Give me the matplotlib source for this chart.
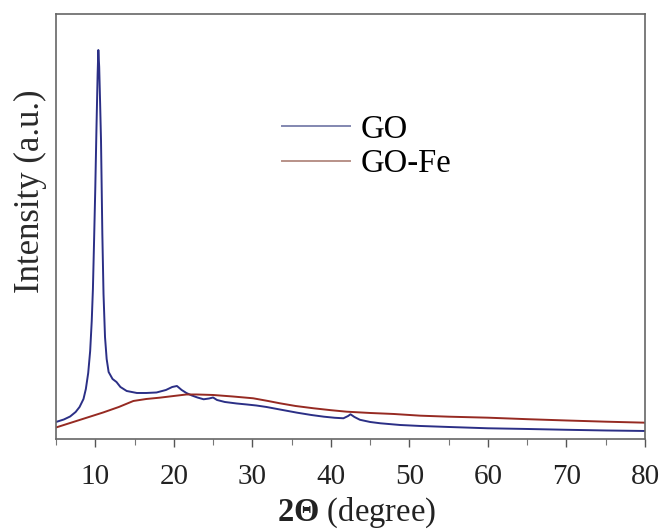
import matplotlib
matplotlib.use("Agg")
import matplotlib.pyplot as plt
from matplotlib.ticker import MultipleLocator

# XRD patterns (intensity in arbitrary units)
two_theta_go = [5.0, 6.0, 6.8, 7.5, 8.0, 8.5, 8.8, 9.1, 9.35, 9.55, 9.7, 9.85,
                10.0, 10.15, 10.3, 10.39, 10.5, 10.62, 10.73, 10.9, 11.05, 11.24,
                11.45, 11.7, 12.2, 12.7, 13.2, 14.0, 15.3, 16.5, 17.8, 19.0, 19.8,
                20.4, 21.0, 21.6, 22.3, 23.0, 23.8, 24.5, 25.0, 25.5, 26.5, 28.0,
                29.3, 30.5, 31.8, 33.5, 35.7, 37.5, 39.1, 40.5, 41.6, 42.2, 42.5,
                43.0, 43.7, 45.0, 46.3, 48.8, 51.4, 55.0, 60.0, 65.0, 70.0, 75.0,
                80.0]
intensity_go = [17, 19.5, 22.5, 27, 32, 40, 50, 66, 88, 118, 150, 199,
                250, 310, 365, 389, 372, 335, 299, 205, 145, 102,
                80, 67, 60, 57, 52, 48, 46, 46, 46.5, 49, 52,
                53, 49, 46, 43.5, 41.5, 39.7, 40.5, 41.5, 39, 37, 35.5,
                34.5, 33.5, 32, 29.5, 26.3, 24, 22.3, 21.2, 20.7, 23, 24.7,
                22, 19.2, 17, 15.7, 14, 13, 12, 10.7, 10, 9.2, 8.5,
                8]

two_theta_fe = [5.0, 7.0, 9.0, 11.0, 13.0, 14.85, 16.5, 18.2, 20.0, 21.6,
                22.9, 25.0, 27.5, 30.1, 32.0, 33.5, 35.5, 37.8, 40.0, 42.0, 45.0,
                48.0, 51.4, 55.0, 60.0, 65.0, 70.0, 75.0, 80.0]
intensity_fe = [11.5, 16.5, 21.5, 26.5, 32, 38, 40, 41.3, 43, 44.5,
                44.5, 44, 42.5, 40.7, 38, 35.7, 33, 30.7, 28.8, 27.3, 26,
                25, 23.3, 22.3, 21.3, 19.8, 18.5, 17.3, 16.3]

plt.rcParams["font.family"] = ["Liberation Serif", "DejaVu Serif"]
plt.rcParams["mathtext.fontset"] = "custom"
plt.rcParams["mathtext.rm"] = "Liberation Serif"
plt.rcParams["mathtext.bf"] = "Liberation Serif:bold"

fig = plt.figure(figsize=(6.62, 5.31), dpi=100)
ax = fig.add_axes([0.0846, 0.1733, 0.8897, 0.8003])

ax.plot(two_theta_go, intensity_go, color="#2b2f86", lw=1.4, label="GO")
ax.plot(two_theta_fe, intensity_fe, color="#962a22", lw=1.4, label="GO-Fe")

ax.set_xlim(5, 80)
ax.set_ylim(0, 425)
ax.xaxis.set_major_locator(MultipleLocator(10))
ax.xaxis.set_minor_locator(MultipleLocator(5))
ax.tick_params(axis="x", which="major", direction="out", length=6, width=1,
               color="#555555", labelsize=21, pad=12, labelcolor="#222222")
ax.tick_params(axis="x", which="minor", direction="out", length=4, width=0.8,
               color="#777777")
ax.set_yticks([])
for sp in ax.spines.values():
    sp.set_color("#666666")
    sp.set_linewidth(1.2)

ax.set_ylabel("Intensity (a.u.)", fontsize=25, color="#2a2a2a")
ax.yaxis.set_label_coords(-0.015, 0.584)
ax.set_xlabel(r"$\mathbf{2\Theta}$ (degree)", fontsize=23.5, color="#222222")
ax.xaxis.set_label_coords(0.51, -0.134)

leg = ax.legend(loc="upper left", bbox_to_anchor=(0.384, 0.764), frameon=False,
                fontsize=23.5, handlelength=2.09, handletextpad=0.3,
                labelspacing=0.12, borderpad=0, borderaxespad=0)
leg.get_lines()[0].set_color("#8287b0")
leg.get_lines()[1].set_color("#b89288")

fig.savefig("out.png", dpi=100)
